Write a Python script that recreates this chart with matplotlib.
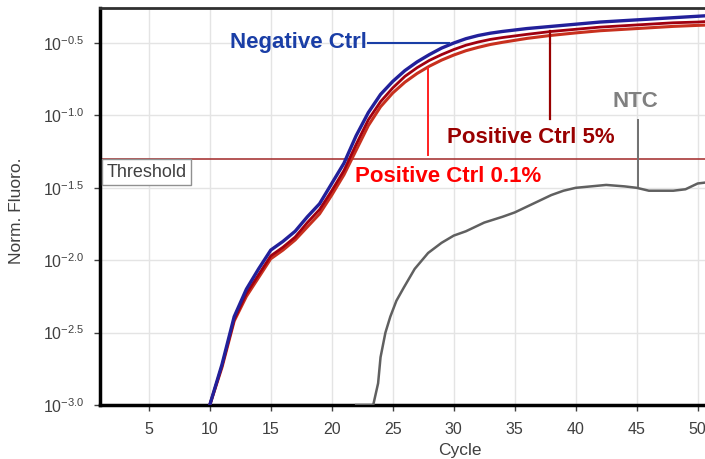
import matplotlib
matplotlib.use("Agg")
import matplotlib.pyplot as plt
import numpy as np

plt.rcParams['font.family'] = ['Liberation Sans', 'DejaVu Sans']
plt.rcParams['mathtext.fontset'] = 'custom'
plt.rcParams['mathtext.rm'] = 'Liberation Sans'

# amplification curves, values are log10(Norm. Fluoro.)
cycles = [10, 11, 12, 13, 14, 15, 16, 17, 18, 19, 20, 21, 22, 23, 24, 25, 26,
          27, 28, 29, 30, 31, 32, 33, 34, 36, 38, 40, 42, 44, 46, 48, 50, 51]
neg_ctrl = [-3.0, -2.72, -2.39, -2.20, -2.06, -1.93, -1.87, -1.80, -1.70, -1.61,
            -1.47, -1.33, -1.14, -0.98, -0.855, -0.765, -0.69, -0.63, -0.58,
            -0.535, -0.50, -0.47, -0.448, -0.432, -0.42, -0.40, -0.385, -0.37,
            -0.355, -0.345, -0.335, -0.325, -0.315, -0.31]
pos_5 = [-3.0, -2.73, -2.41, -2.23, -2.10, -1.97, -1.91, -1.84, -1.74, -1.65,
         -1.52, -1.38, -1.20, -1.03, -0.905, -0.81, -0.73, -0.67, -0.62, -0.58,
         -0.545, -0.515, -0.493, -0.475, -0.462, -0.44, -0.42, -0.405, -0.39,
         -0.38, -0.37, -0.36, -0.355, -0.35]
pos_01 = [-3.0, -2.74, -2.42, -2.25, -2.12, -1.99, -1.93, -1.86, -1.77, -1.68,
          -1.55, -1.41, -1.24, -1.07, -0.94, -0.845, -0.77, -0.71, -0.66, -0.618,
          -0.583, -0.553, -0.53, -0.51, -0.495, -0.468, -0.447, -0.43, -0.415,
          -0.405, -0.395, -0.385, -0.378, -0.375]
ntc_cycles = [22, 23.4, 23.8, 24.0, 24.4, 24.8, 25.3, 25.9, 26.8, 27.9, 29, 30,
              31, 32.5, 34, 35, 36.5, 38, 39, 40, 42.5, 44, 45, 46, 48, 49, 50, 51]
ntc = [-3.0, -3.0, -2.85, -2.67, -2.50, -2.39, -2.28, -2.19, -2.06, -1.95,
       -1.88, -1.83, -1.80, -1.74, -1.70, -1.67, -1.61, -1.55, -1.52, -1.50,
       -1.48, -1.49, -1.50, -1.52, -1.52, -1.51, -1.47, -1.46]
threshold = -1.3

ytick_exp = [-3.0, -2.5, -2.0, -1.5, -1.0, -0.5]
xtick_vals = [5, 10, 15, 20, 25, 30, 35, 40, 45, 50]

fig = plt.figure(figsize=(7.05, 4.59), dpi=100)
ax = fig.add_axes([100 / 705, 54 / 459, 605 / 705, 397 / 459])
ax.set_yscale('log')

ax.plot(cycles, 10 ** np.array(pos_01), color='#c8301e', lw=2.2, zorder=3)
ax.plot(cycles, 10 ** np.array(pos_5), color='#a00010', lw=2.0, zorder=4)
ax.plot(cycles, 10 ** np.array(neg_ctrl), color='#22209a', lw=2.4, zorder=5)
ax.plot(ntc_cycles, 10 ** np.array(ntc), color='#606060', lw=1.8, zorder=3)

ax.axhline(10 ** threshold, color='#a83838', lw=1.2, zorder=2)
ax.text(1.55, 10 ** -1.393, 'Threshold', fontsize=13, color='#404040',
        ha='left', va='center', zorder=6,
        bbox=dict(boxstyle='square,pad=0.25', fc='white', ec='#909090', lw=1))

ax.set_xlim(1, 50.6)
ax.set_ylim(10 ** -3.0, 10 ** -0.258)
ax.set_xticks(xtick_vals)
ax.set_yticks([10 ** e for e in ytick_exp])
ax.set_yticklabels([r'$10^{%.1f}$' % e for e in ytick_exp])
ax.minorticks_off()
ax.tick_params(axis='both', labelsize=11.5, labelcolor='#404040', color='#404040',
               length=4, width=1)
ax.tick_params(axis='y', pad=7)
ax.tick_params(axis='x', pad=8)
ax.grid(True, color='#e4e4e4', lw=1)
ax.set_axisbelow(True)

for side in ['left', 'bottom']:
    ax.spines[side].set_linewidth(2.5)
    ax.spines[side].set_color('black')
ax.spines['top'].set_linewidth(2)
ax.spines['top'].set_color('#303030')
ax.spines['right'].set_visible(False)

ax.set_xlabel('Cycle', fontsize=12.5, color='#404040')
ax.xaxis.set_label_coords((460 - 100) / 605, -0.096)
ax.set_ylabel('Norm. Fluoro.', fontsize=12.5, color='#404040')
ax.yaxis.set_label_coords(-0.125, 0.49)

# annotations with pointer lines
ax.text(22.9, 10 ** -0.495, 'Negative Ctrl', color='#1a3ea6', fontsize=16,
        weight='bold', ha='right', va='center', zorder=7)
ax.plot([23.0, 29.6], [10 ** -0.5, 10 ** -0.5], color='#1a3ea6', lw=1.5, zorder=6)

ax.text(36.3, 10 ** -1.149, 'Positive Ctrl 5%', color='#990000', fontsize=16,
        weight='bold', ha='center', va='center', zorder=7)
ax.plot([37.9, 37.9], [10 ** -0.42, 10 ** -1.025], color='#990000', lw=1.6, zorder=6)

ax.text(29.5, 10 ** -1.425, 'Positive Ctrl 0.1%', color='#ff0000', fontsize=16,
        weight='bold', ha='center', va='center', zorder=7)
ax.plot([27.9, 27.9], [10 ** -0.67, 10 ** -1.273], color='#ff2020', lw=1.4, zorder=6)

ax.text(44.9, 10 ** -0.907, 'NTC', color='#808080', fontsize=16,
        weight='bold', ha='center', va='center', zorder=7)
ax.plot([45.1, 45.1], [10 ** -1.03, 10 ** -1.49], color='#707070', lw=1.4, zorder=6)

fig.savefig('out.png', dpi=100)
